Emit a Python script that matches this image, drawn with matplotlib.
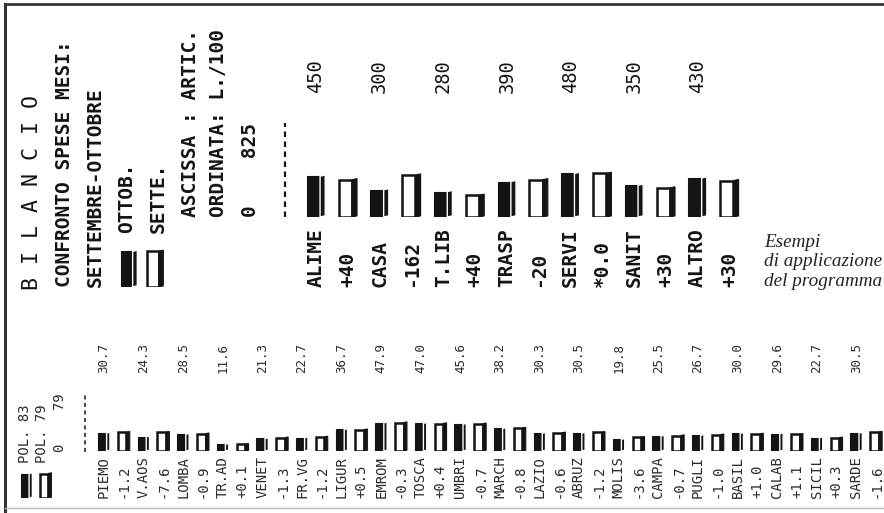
import matplotlib.pyplot as plt
from matplotlib.lines import Line2D
from matplotlib.transforms import blended_transform_factory

# --- bilancio: confronto spese settembre / ottobre (L./100) ---
voci = ["ALIME", "CASA", "T.LIB", "TRASP", "SERVI", "SANIT", "ALTRO"]
ottobre = [450, 300, 280, 390, 480, 350, 430]
settembre = [410, 462, 240, 410, 480, 320, 400]
diff_mesi = ["+40", "-162", "+40", "-20", "*0.0", "+30", "+30"]

# --- popolazione per regione, 1983 / 1979 ---
regioni = ["PIEMO", "V.AOS", "LOMBA", "TR.AD", "VENET", "FR.VG", "LIGUR",
           "EMROM", "TOSCA", "UMBRI", "MARCH", "LAZIO", "ABRUZ", "MOLIS",
           "CAMPA", "PUGLI", "BASIL", "CALAB", "SICIL", "SARDE"]
pol83 = [30.7, 24.3, 28.5, 11.6, 21.3, 22.7, 36.7, 47.9, 47.0, 45.6,
         38.2, 30.3, 30.5, 19.8, 25.5, 26.7, 30.0, 29.6, 22.7, 30.5]
pol79 = [31.9, 31.9, 29.4, 11.5, 22.6, 23.9, 36.2, 48.2, 46.6, 46.3,
         39.0, 30.9, 31.7, 23.4, 26.2, 27.7, 29.0, 28.5, 22.4, 32.1]
diff_pol = ["-1.2", "-7.6", "-0.9", "+0.1", "-1.3", "-1.2", "+0.5", "-0.3",
            "+0.4", "-0.7", "-0.8", "-0.6", "-1.2", "-3.6", "-0.7", "-1.0",
            "+1.0", "+1.1", "+0.3", "-1.6"]

W, H = 884, 513
fig = plt.figure(figsize=(W / 100, H / 100), dpi=100)
fig.patch.set_facecolor("white")
MONO = "DejaVu Sans Mono"
INK = "#141414"
GREY_INK = "#2a2a2a"


def fx(x):
    return x / W


def fy(y):
    return 1 - y / H


def box3d(ax, x, h, w, dy, dark):
    # bar with a little "3D" side face like the printer output
    fw = w * 0.72
    x0 = x - w / 2
    if dark:
        ax.bar(x0, h, width=fw, align="edge", color=INK, edgecolor=INK, lw=0.8)
        ax.fill([x0 + fw, x0 + w, x0 + w, x0 + fw], [0, dy, h + dy, h],
                color=INK, ec="white", lw=1.0)
    else:
        ax.bar(x0, h, width=fw, align="edge", color="white", edgecolor=INK, lw=1.8)
        ax.fill([x0 + fw, x0 + w, x0 + w, x0 + fw], [0, dy, h + dy, h],
                color=INK, ec=INK, lw=0.8)


def make_axes(x_first, step, n, base_y, ymax, pxu):
    left = x_first - 0.5 * step
    ax = fig.add_axes([fx(left), fy(base_y), n * step / W, ymax * pxu / H])
    ax.set_xlim(-0.5, n - 0.5)
    ax.set_ylim(0, ymax)
    ax.axis("off")
    return ax


# ---------------- top chart ----------------
ax1 = make_axes(316, 31.8, 2 * len(voci), 217, 825, 0.091)
tr1 = blended_transform_factory(ax1.transData, fig.transFigure)
for i, v in enumerate(voci):
    xb, xw = 2 * i, 2 * i + 1
    box3d(ax1, xb, ottobre[i], 0.58, 12, True)
    box3d(ax1, xw, settembre[i], 0.58, 12, False)
    ax1.text(xb, fy(287), v, transform=tr1, rotation=90, ha="center", va="bottom",
             family=MONO, fontsize=14, fontweight="bold", color=INK)
    ax1.text(xw, fy(287), diff_mesi[i], transform=tr1, rotation=90, ha="center",
             va="bottom", family=MONO, fontsize=14, fontweight="bold", color=INK)
    ax1.text(xb, fy(93), str(ottobre[i]), transform=tr1, rotation=90, ha="center",
             va="bottom", family=MONO, fontsize=13.5, color=INK)

# left block of the top chart
left_txt = [
    (32, 290, "B I L A N C I O", 15.5, "normal"),
    (64, 287, "CONFRONTO SPESE MESI:", 14, "bold"),
    (95, 287, "SETTEMBRE-OTTOBRE", 14, "bold"),
    (127, 233, "OTTOB.", 14, "bold"),
    (158, 233, "SETTE.", 14, "bold"),
    (191, 217, "ASCISSA : ARTIC.", 14, "bold"),
    (218, 217, "ORDINATA: L./100", 14, "bold"),
    (251, 217, "0    825", 14, "bold"),
]
for x, y, s, fs, wt in left_txt:
    fig.text(fx(x), fy(y), s, rotation=90, ha="center", va="bottom",
             family=MONO, fontsize=fs, fontweight=wt, color=INK)

# legend boxes (top)
axl1 = fig.add_axes([fx(116), fy(287), 52 / W, 38 / H])
axl1.set_xlim(-0.5, 1.5)
axl1.set_ylim(0, 1)
axl1.axis("off")
box3d(axl1, 0, 0.94, 0.64, 0.03, True)
box3d(axl1, 1, 0.94, 0.64, 0.03, False)

fig.add_artist(Line2D([fx(285), fx(285)], [fy(217), fy(123)], color=INK,
                      lw=1.6, ls=(0, (2.5, 2))))

# caption
for k, s in enumerate(["Esempi", "di applicazione", "del programma"]):
    fig.text(fx(764), fy(247 + 19.5 * k), s, ha="left", va="baseline",
             family="Liberation Serif", style="italic", fontsize=13.8, color="#222")

# ---------------- bottom chart ----------------
ax2 = make_axes(104, 19.8, 2 * len(regioni), 451, 79, 0.59)
tr2 = blended_transform_factory(ax2.transData, fig.transFigure)
for i, r in enumerate(regioni):
    xb, xw = 2 * i, 2 * i + 1
    box3d(ax2, xb, pol83[i], 0.6, 1.2, True)
    box3d(ax2, xw, pol79[i], 0.6, 1.2, False)
    ax2.text(xb, fy(498), r, transform=tr2, rotation=90, ha="center", va="bottom",
             family=MONO, fontsize=10, color=GREY_INK)
    ax2.text(xw, fy(498), diff_pol[i], transform=tr2, rotation=90, ha="center",
             va="bottom", family=MONO, fontsize=10, color=GREY_INK)
    ax2.text(xb, fy(373), f"{pol83[i]:.1f}", transform=tr2, rotation=90,
             ha="center", va="bottom", family=MONO, fontsize=9, color=GREY_INK)

for x, y, s in [(25, 463, "POL. 83"), (42, 463, "POL. 79"), (60, 452, "0    79")]:
    fig.text(fx(x), fy(y), s, rotation=90, ha="center", va="bottom",
             family=MONO, fontsize=10, color=GREY_INK)

axl2 = fig.add_axes([fx(17), fy(498), 38 / W, 26 / H])
axl2.set_xlim(-0.5, 1.5)
axl2.set_ylim(0, 1)
axl2.axis("off")
box3d(axl2, 0, 0.94, 0.62, 0.03, True)
box3d(axl2, 1, 0.94, 0.62, 0.03, False)

fig.add_artist(Line2D([fx(85), fx(85)], [fy(452), fy(392)], color=GREY_INK,
                      lw=1.2, ls=(0, (2.5, 2))))

# page borders of the scanned printouts
fig.add_artist(Line2D([fx(5), fx(5)], [fy(4), fy(513)], color="#333", lw=2.2))
fig.add_artist(Line2D([fx(5), fx(884)], [fy(4), fy(4)], color="#333", lw=2.0))
fig.add_artist(Line2D([fx(5), fx(884)], [fy(508), fy(508)], color="#bbb", lw=1.0))

fig.savefig("out.png", dpi=100)
